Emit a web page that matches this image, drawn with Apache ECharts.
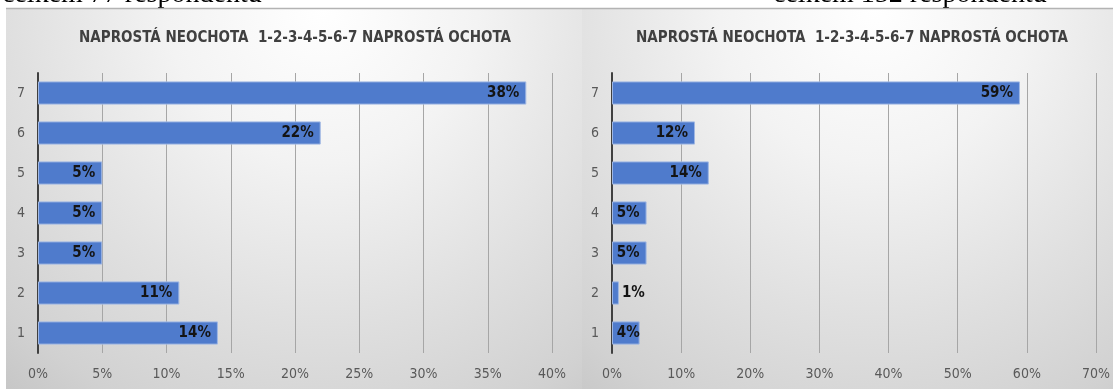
<!DOCTYPE html>
<html>
<head>
<meta charset="utf-8">
<script src="https://cdn.jsdelivr.net/npm/echarts@6/dist/echarts.min.js"></script>
<style>
  html, body { margin: 0; padding: 0; background: #ffffff; }
  #chart { width: 1113px; height: 389px; }
</style>
</head>
<body>
<div id="chart"></div>
<script>
// Willingness scale 1..7, share of respondents (%)
const categories = ['1', '2', '3', '4', '5', '6', '7'];
const leftValues = [14, 11, 5, 5, 5, 22, 38];   // celkem 77 respondentů
const rightValues = [4, 1, 5, 5, 14, 12, 59];   // celkem 152 respondentů
const leftTicks = [0, 5, 10, 15, 20, 25, 30, 35, 40];
const rightTicks = [0, 10, 20, 30, 40, 50, 60, 70];
const titleText = 'NAPROSTÁ NEOCHOTA  1-2-3-4-5-6-7 NAPROSTÁ OCHOTA';
const headerLeft = 'celkem 77 respondentů';
const headerRight = 'celkem 152 respondentů';

const condensed = '"Liberation Sans Narrow", "DejaVu Sans Condensed", "Open Sans", sans-serif';
const barColor = '#4f7bcc';

function panelFill() {
  return {
    type: 'radial', x: 0.55, y: 0.0, r: 1.35,
    colorStops: [
      { offset: 0, color: '#ffffff' },
      { offset: 0.3, color: '#f3f3f3' },
      { offset: 0.6, color: '#e0e0e0' },
      { offset: 0.85, color: '#d1d1d1' },
      { offset: 1, color: '#c3c3c3' }
    ]
  };
}

// labels sit inside the bar end; very short bars push the label outside
function barData(values, scaleMax) {
  return values.map(v => {
    const tiny = v / scaleMax < 0.03;
    const short = v / scaleMax < 0.065;
    return {
      value: v,
      label: { position: tiny ? 'right' : 'insideRight', distance: tiny ? 3 : (short ? 0 : 7) }
    };
  });
}

const chart = echarts.init(document.getElementById('chart'), null, { renderer: 'canvas' });

const axisLabelStyle = { color: '#595959', fontSize: 14, fontFamily: condensed };

chart.setOption({
  animation: false,
  backgroundColor: '#ffffff',
  graphic: [
    // header lines above the panels
    { type: 'text', z: -20, left: 2, top: -19,
      style: { text: headerLeft, font: '28px "Liberation Serif", "DejaVu Serif", serif', fill: '#000' } },
    { type: 'text', z: -20, left: 773, top: -19,
      style: { text: headerRight, font: '28px "Liberation Serif", "DejaVu Serif", serif', fill: '#000' } },
    // panel backgrounds
    { type: 'rect', z: -10, shape: { x: 6, y: 8, width: 576, height: 381 },
      style: { fill: panelFill() } },
    { type: 'rect', z: -10, shape: { x: 582, y: 8, width: 531, height: 381 },
      style: { fill: panelFill() } },
    { type: 'line', z: -9, shape: { x1: 6, y1: 8.5, x2: 1113, y2: 8.5 },
      style: { stroke: '#b3b3b3', lineWidth: 1.5 } },
    // panel titles
    { type: 'text', z: 5, x: 295, y: 38,
      style: { text: titleText, fill: '#404040', font: 'bold 15px ' + condensed,
               align: 'center', verticalAlign: 'middle' } },
    { type: 'text', z: 5, x: 852, y: 38,
      style: { text: titleText, fill: '#404040', font: 'bold 15px ' + condensed,
               align: 'center', verticalAlign: 'middle' } }
  ],
  grid: [
    { left: 38, top: 73, width: 514, height: 280 },
    { left: 612, top: 73, width: 485, height: 280 }
  ],
  xAxis: [
    { type: 'value', gridIndex: 0, min: 0, max: leftTicks[leftTicks.length - 1], interval: 5,
      axisLine: { show: false }, axisTick: { show: false },
      splitLine: { lineStyle: { color: '#a6a6a6', width: 1 } },
      axisLabel: Object.assign({ margin: 14, formatter: '{value}%' }, axisLabelStyle) },
    { type: 'value', gridIndex: 1, min: 0, max: rightTicks[rightTicks.length - 1], interval: 10,
      axisLine: { show: false }, axisTick: { show: false },
      splitLine: { lineStyle: { color: '#a6a6a6', width: 1 } },
      axisLabel: Object.assign({ margin: 14, formatter: '{value}%' }, axisLabelStyle) }
  ],
  yAxis: [
    { type: 'category', gridIndex: 0, data: categories,
      axisLine: { lineStyle: { color: '#404040', width: 2 } }, axisTick: { show: false },
      axisLabel: Object.assign({ margin: 13 }, axisLabelStyle) },
    { type: 'category', gridIndex: 1, data: categories,
      axisLine: { lineStyle: { color: '#404040', width: 2 } }, axisTick: { show: false },
      axisLabel: Object.assign({ margin: 13 }, axisLabelStyle) }
  ],
  series: [
    { type: 'bar', xAxisIndex: 0, yAxisIndex: 0,
      data: barData(leftValues, leftTicks[leftTicks.length - 1]),
      barWidth: '58%', z: 3,
      itemStyle: { color: barColor, borderColor: '#9fb7e3', borderWidth: 1 },
      label: { show: true, formatter: '{c}%', color: '#141414', fontWeight: 'bold',
               fontSize: 15, fontFamily: condensed } },
    { type: 'bar', xAxisIndex: 1, yAxisIndex: 1,
      data: barData(rightValues, rightTicks[rightTicks.length - 1]),
      barWidth: '58%', z: 3,
      itemStyle: { color: barColor, borderColor: '#9fb7e3', borderWidth: 1 },
      label: { show: true, formatter: '{c}%', color: '#141414', fontWeight: 'bold',
               fontSize: 15, fontFamily: condensed } }
  ]
});
</script>
</body>
</html>
